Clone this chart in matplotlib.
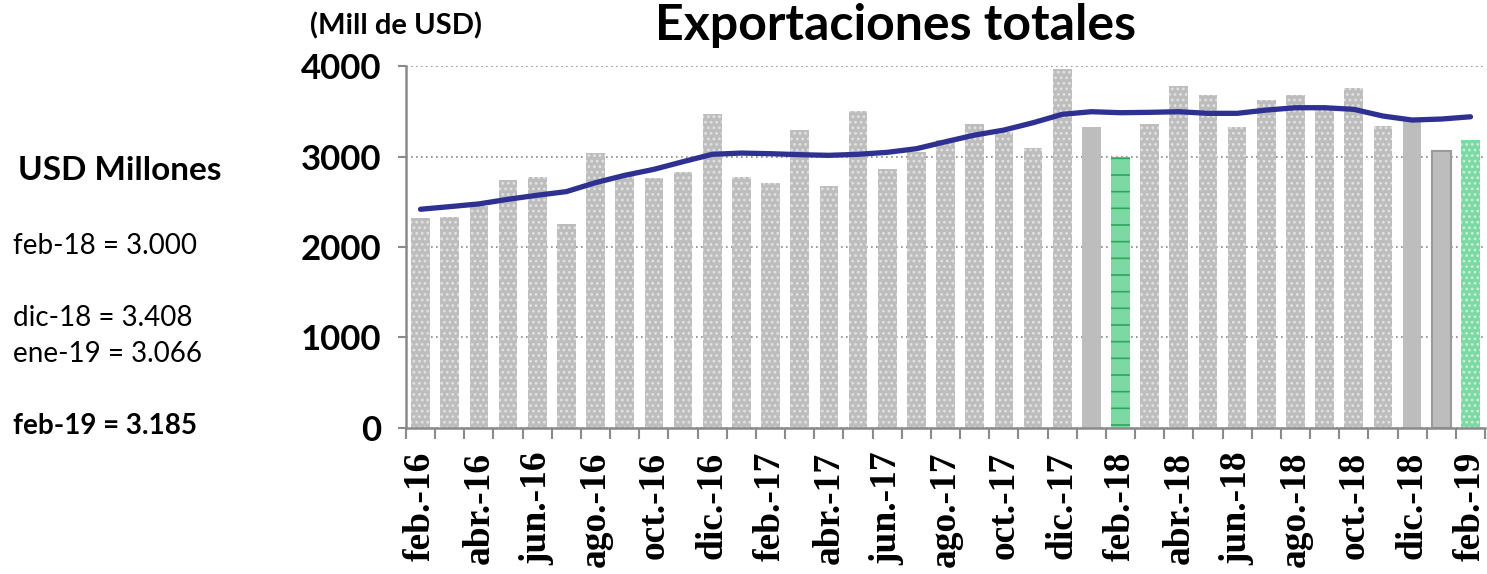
import numpy as np
import matplotlib
matplotlib.use("Agg")
import matplotlib.pyplot as plt

months = ["feb.-16", "mar.-16", "abr.-16", "may.-16", "jun.-16", "jul.-16", "ago.-16", "sep.-16",
          "oct.-16", "nov.-16", "dic.-16", "ene.-17", "feb.-17", "mar.-17", "abr.-17", "may.-17",
          "jun.-17", "jul.-17", "ago.-17", "sep.-17", "oct.-17", "nov.-17", "dic.-17", "ene.-18",
          "feb.-18", "mar.-18", "abr.-18", "may.-18", "jun.-18", "jul.-18", "ago.-18", "sep.-18",
          "oct.-18", "nov.-18", "dic.-18", "ene.-19", "feb.-19"]

exports = [2318, 2329, 2450, 2741, 2774, 2259, 3035, 2790, 2763, 2825, 3469, 2774,
           2707, 3289, 2674, 3499, 2862, 3053, 3182, 3362, 3274, 3094, 3966, 3326,
           3000, 3359, 3778, 3679, 3326, 3624, 3679, 3550, 3760, 3337, 3408, 3066, 3185]

trend = [2417, 2446, 2476, 2527, 2572, 2612, 2711, 2792, 2858, 2943, 3024, 3038,
         3031, 3020, 3013, 3024, 3046, 3086, 3163, 3237, 3292, 3373, 3466, 3495,
         3484, 3488, 3495, 3477, 3477, 3513, 3539, 3539, 3521, 3447, 3403, 3414, 3439]

notes = ["feb-18 = 3.000", "dic-18 = 3.408", "ene-19 = 3.066", "feb-19 = 3.185"]

plt.rcParams["hatch.linewidth"] = 1.2

fig = plt.figure(figsize=(14.87, 5.74), dpi=100)
ax = fig.add_axes([0.273, 0.2544, 0.7257, 0.6306])

x = np.arange(len(months))
gray = "#bdbdbd"
green = "#7dd9a4"

for i, v in enumerate(exports):
    m = months[i]
    if m == "feb.-18":
        ax.bar(i, v, width=0.64, color=green, edgecolor="#2fa55e", hatch="-", linewidth=0, zorder=2)
    elif m == "feb.-19":
        ax.bar(i, v, width=0.64, color=green, edgecolor="#c8f0d8", hatch="...", linewidth=0, zorder=2)
    elif m in ("ene.-18", "dic.-18"):
        ax.bar(i, v, width=0.64, color=gray, linewidth=0, zorder=2)
    elif m == "ene.-19":
        ax.bar(i, v, width=0.64, color=gray, edgecolor="#9a9a9a", linewidth=1.5, zorder=2)
    else:
        ax.bar(i, v, width=0.64, color=gray, edgecolor="#e2e2e2", hatch="...", linewidth=0, zorder=2)

ax.plot(x, trend, color="#2e3192", linewidth=3.8, solid_capstyle="round", zorder=3)

ax.set_xlim(-0.5, len(months) - 0.5)
ax.set_ylim(0, 4000)
ax.set_yticks([0, 1000, 2000, 3000, 4000])
ax.yaxis.grid(True, linestyle=(0, (1, 2)), color="#888888", linewidth=1.2, zorder=0)
ax.set_axisbelow(True)

for s in ["top", "right"]:
    ax.spines[s].set_visible(False)
for s in ["left", "bottom"]:
    ax.spines[s].set_color("#8a8a8a")
    ax.spines[s].set_linewidth(1.8)

# etiquetas cada dos meses, marcas entre barras
ax.set_xticks(x[::2])
ax.set_xticklabels(months[::2], rotation=90, fontsize=27, fontweight="bold",
                   family="Liberation Serif")
ax.set_xticks(np.arange(-0.5, len(months)), minor=True)
ax.tick_params(axis="x", which="major", length=0, pad=17)
ax.tick_params(axis="x", which="minor", length=8, width=1.5, color="#8a8a8a")
ax.tick_params(axis="y", length=6, width=1.5, color="#8a8a8a", pad=12)
for lab in ax.get_yticklabels():
    lab.set_fontsize(25)
    lab.set_fontweight("bold")
    lab.set_family("Lato")

fig.text(0.6025, 0.930, "Exportaciones totales", ha="center", va="baseline", fontsize=36,
         fontweight="bold", family="Lato")
fig.text(0.2665, 0.955, "(Mill de USD)", ha="center", va="center", fontsize=21,
         fontweight="bold", family="Lato")

fig.text(0.012, 0.703, "USD Millones", ha="left", va="center", fontsize=24,
         fontweight="bold", family="Lato")
note_y = [0.571, 0.446, 0.383, 0.257]
for t, yy in zip(notes, note_y):
    fig.text(0.009, yy, t, ha="left", va="center", fontsize=20, family="Lato",
             fontweight="bold" if t.startswith("feb-19") else "normal")

fig.savefig("out.png", dpi=100)
